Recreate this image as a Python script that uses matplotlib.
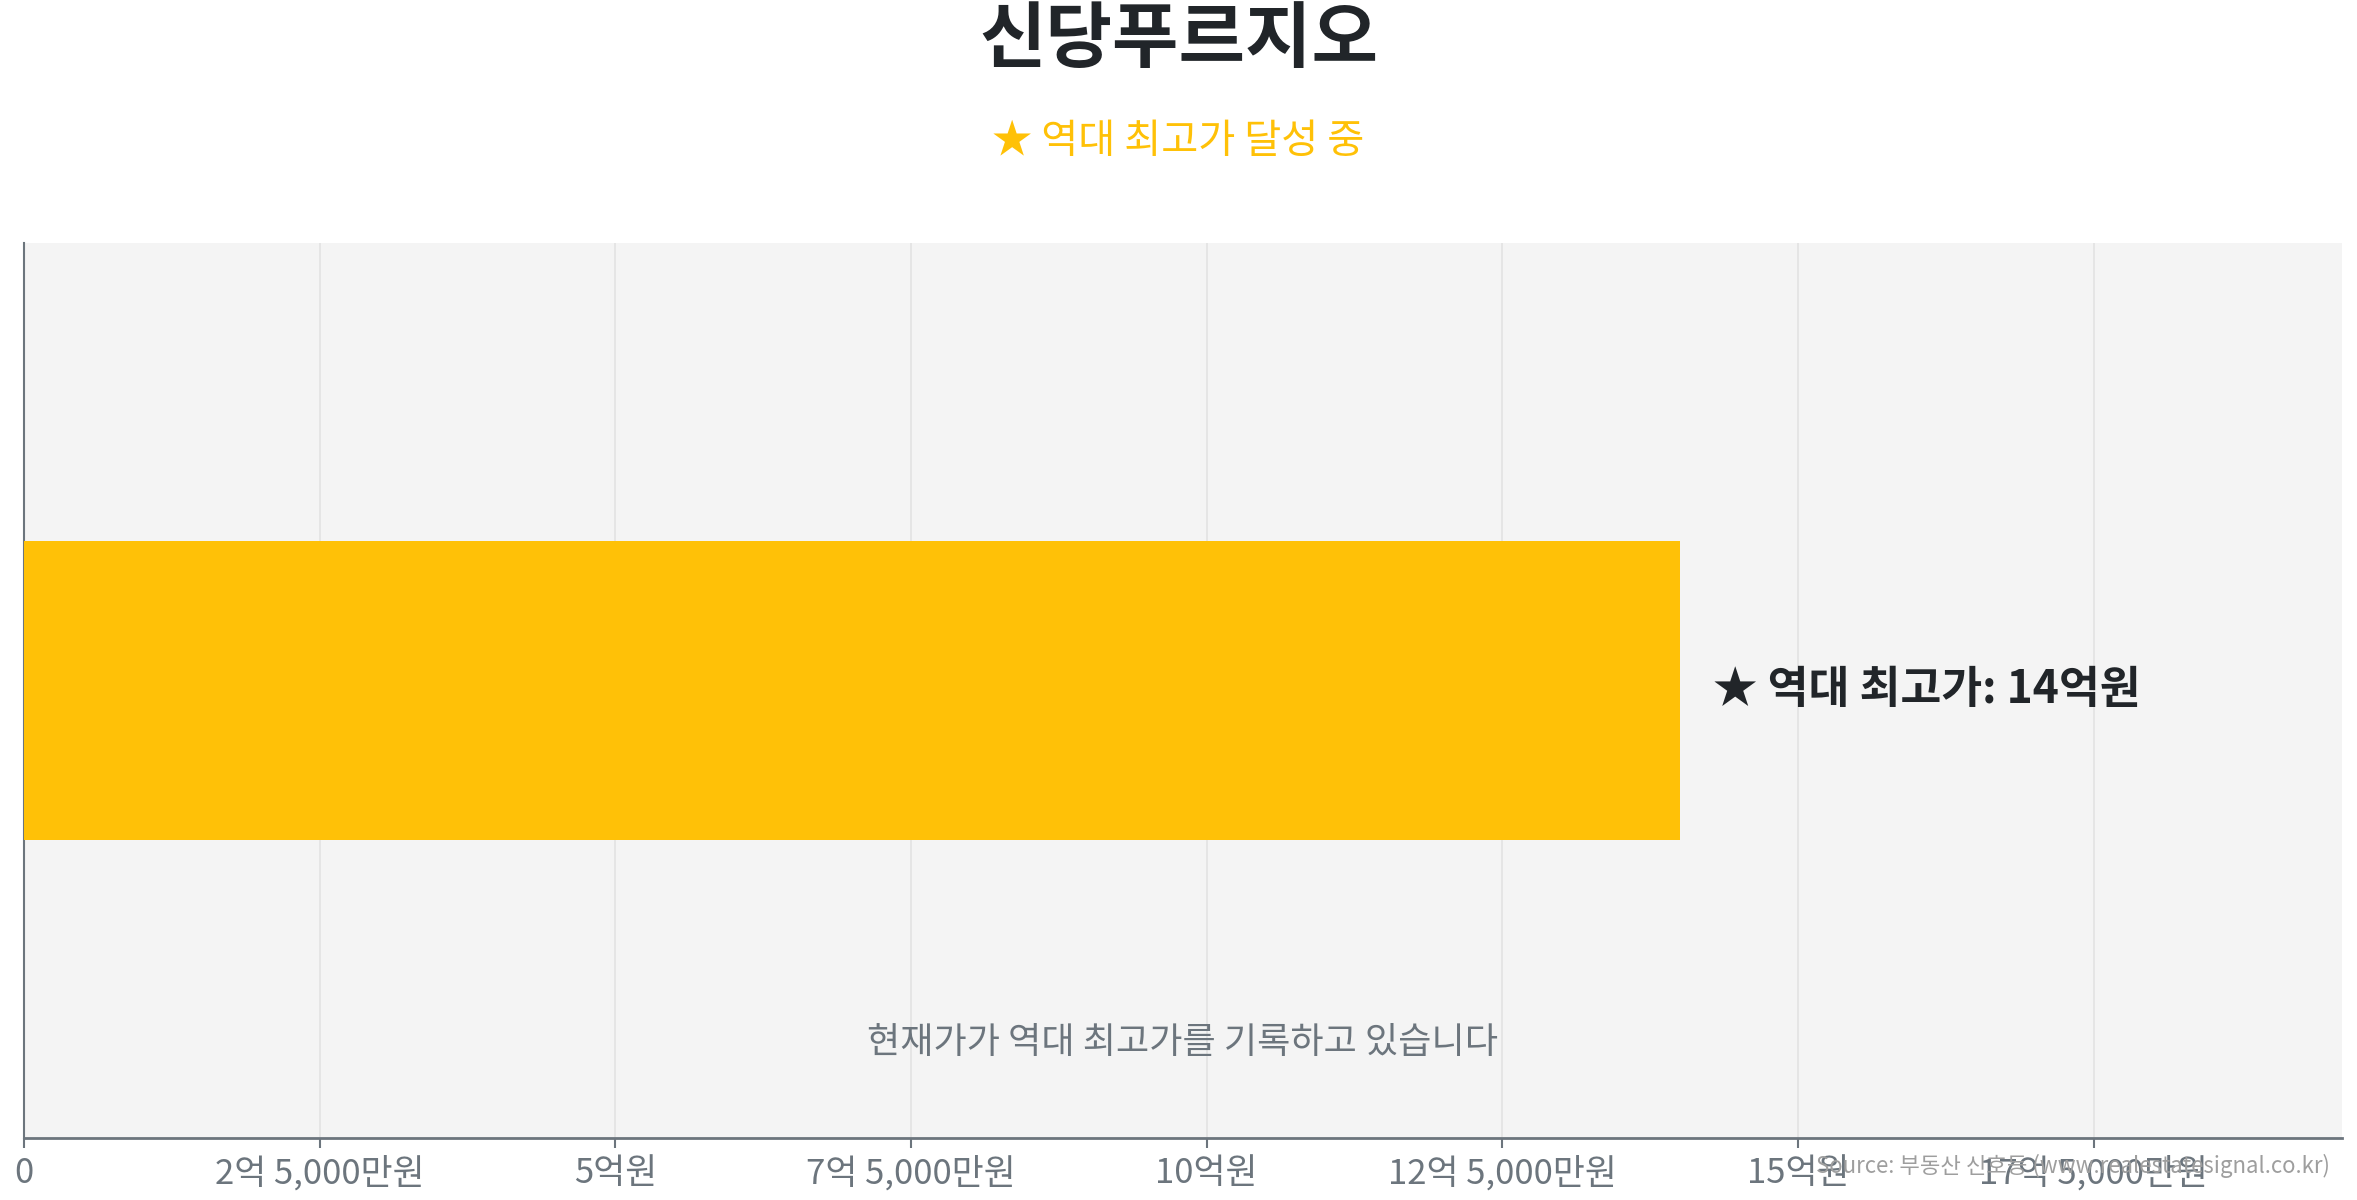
import matplotlib
matplotlib.use('Agg')
import matplotlib.pyplot as plt

plt.rcParams['font.family'] = ['Noto Sans CJK KR', 'DejaVu Sans']

# data (unit: 억원)
apt_name = '신당푸르지오'
categories = ['']
max_price = [14.0]
price_label = '★ 역대 최고가: 14억원'
tick_values = [0, 2.5, 5, 7.5, 10, 12.5, 15, 17.5]
tick_labels = ['0', '2억 5,000만원', '5억원', '7억 5,000만원', '10억원',
               '12억 5,000만원', '15억원', '17억 5,000만원']

gold = '#FFC107'
dark = '#212529'
gray = '#6c757d'

fig = plt.figure(figsize=(23.57, 12), dpi=100)
ax = fig.add_axes([0.0102, 0.0517, 0.9834, 0.7458])
ax.set_facecolor('#f4f4f4')

ax.barh(categories, max_price, height=0.5, color=gold, zorder=3)
ax.set_xlim(0, max(max_price) * 1.4)
ax.set_ylim(-0.75, 0.75)

ax.text(max_price[0] + max(max_price) * 0.02, 0, price_label,
        fontsize=32, fontweight='bold', color=dark, va='center', ha='left', zorder=4)

ax.text(0.5, 0.106, '현재가가 역대 최고가를 기록하고 있습니다', transform=ax.transAxes,
        fontsize=26, color=gray, ha='center', va='center')

ax.set_xticks(tick_values)
ax.set_xticklabels(tick_labels, fontsize=25, color=gray, fontweight='light')
ax.set_yticks([])
ax.tick_params(axis='x', length=7, width=1.5, color=gray, pad=6)
ax.grid(axis='x', color='#e3e3e3', linewidth=1.2, zorder=0)
ax.set_axisbelow(True)

for s in ['top', 'right']:
    ax.spines[s].set_visible(False)
ax.spines['left'].set_color(gray)
ax.spines['bottom'].set_color(gray)
ax.spines['left'].set_linewidth(1.5)
ax.spines['bottom'].set_linewidth(2)

fig.text(0.5, 0.966, apt_name, fontsize=52, fontweight='bold', color=dark,
         ha='center', va='center')
fig.text(0.5, 0.882, '★ 역대 최고가 달성 중', fontsize=29, color=gold,
         ha='center', va='center')
fig.text(0.9886, 0.028, 'Source: 부동산 신호등 (www.realestatesignal.co.kr)',
         fontsize=16, color='#9e9e9e', ha='right', va='center')

fig.savefig('out.png', dpi=100)
